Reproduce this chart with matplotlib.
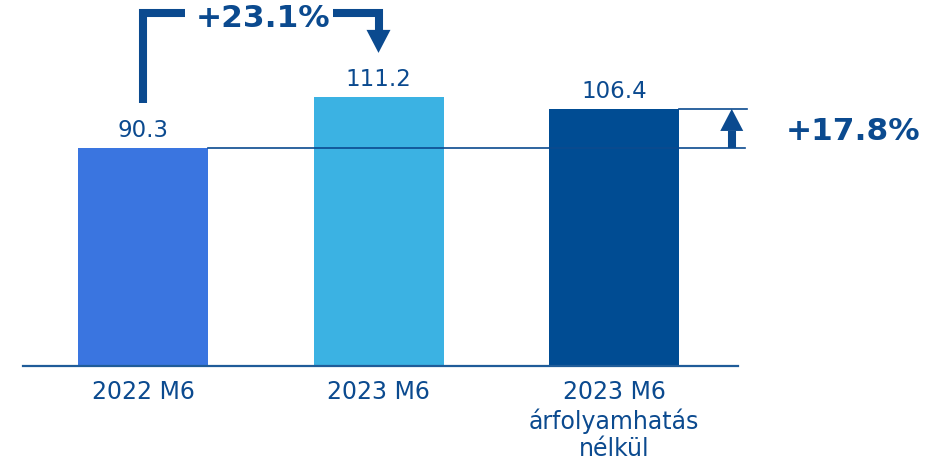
import matplotlib
matplotlib.use("Agg")
import matplotlib.pyplot as plt

categories = ["2022 M6", "2023 M6", "2023 M6\nárfolyamhatás\nnélkül"]
values = [90.3, 111.2, 106.4]
bar_colors = ["#3a75e0", "#3bb2e3", "#004c93"]
growth_labels = ["+23.1%", "+17.8%"]

dark = "#0b4a8f"
px_x = 235.5   # pixels per category step
px_y = 2.416   # pixels per unit

fig = plt.figure(figsize=(9.38, 4.63), dpi=100)
ax = fig.add_axes([0, 97 / 463, 1, 366 / 463])
ax.set_xlim(-143 / px_x, (938 - 143) / px_x)
ax.set_ylim(0, 366 / px_y)
ax.axis("off")

x = list(range(len(categories)))
w = 130 / px_x
ax.bar(x, values, width=w, color=bar_colors, zorder=2)

# baseline
ax.plot([-120 / px_x, 595 / px_x], [0, 0], color="#1f5c99", lw=1.6,
        clip_on=False, zorder=3)

# value labels
for xi, v in zip(x, values):
    ax.annotate(f"{v:.1f}", (xi, v), xytext=(0, 8), textcoords="offset points",
                ha="center", va="baseline", fontsize=16.5, color=dark)

# category labels
for xi, c in zip(x, categories):
    ax.text(xi, -14 / px_y, c, ha="center", va="top", fontsize=17,
            color=dark, linespacing=1.2, clip_on=False)

# reference lines
ax.plot([w / 2, 2.556], [values[0], values[0]], color=dark, lw=1.2, zorder=3)
ax.plot([2 + w / 2, 2.565], [values[2], values[2]], color=dark, lw=1.2, zorder=3)

# +17.8% arrow
ax_x = 2.50
hl = 22 / px_y
ax.plot([ax_x, ax_x], [values[0], values[2] - hl], color=dark, lw=5.8,
        solid_capstyle="butt", zorder=3)
hw = 11.5 / px_x
ax.fill([ax_x - hw, ax_x + hw, ax_x], [values[2] - hl, values[2] - hl, values[2]],
        color=dark, lw=0, zorder=3)
ax.text(3.017, 93.5, growth_labels[1], ha="center", va="baseline",
        fontsize=22.5, fontweight="bold", color=dark)

# +23.1% bracket
top = 146.1
ax.plot([0, 0, 0.178], [values[0] + 18.6, top, top], color=dark, lw=5.8,
        solid_joinstyle="miter", solid_capstyle="butt", zorder=3)
tip = values[1] + 18.4
hl2 = 23 / px_y
ax.plot([0.807, 1.0, 1.0], [top, top, tip + hl2], color=dark, lw=5.8,
        solid_joinstyle="miter", solid_capstyle="butt", zorder=3)
hw2 = 12 / px_x
ax.fill([1 - hw2, 1 + hw2, 1], [tip + hl2, tip + hl2, tip],
        color=dark, lw=0, zorder=3)
ax.text(0.51, 140.3, growth_labels[0], ha="center", va="baseline",
        fontsize=22.5, fontweight="bold", color=dark)

fig.savefig("out.png", dpi=100)
